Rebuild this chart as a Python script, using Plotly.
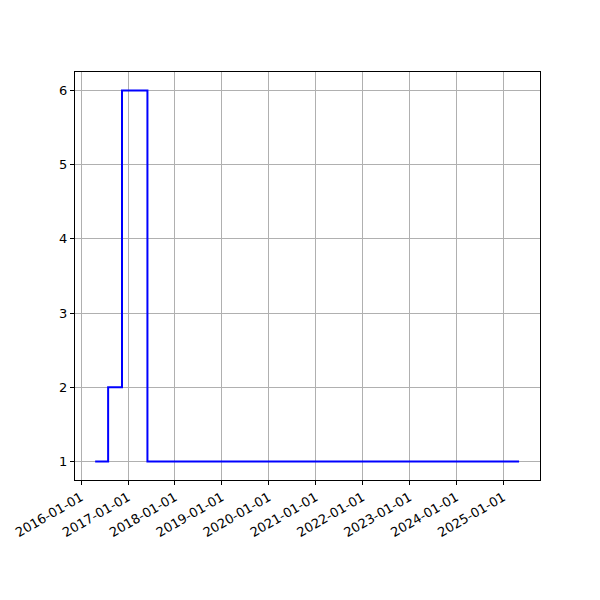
import plotly.graph_objects as go

dates = ["2016-04-20", "2016-07-30", "2016-11-15", "2017-06-01", "2025-05-04"]
values = [1, 2, 6, 1, 1]
tick_dates = [f"{y}-01-01" for y in range(2016, 2026)]
y_ticks = [1, 2, 3, 4, 5, 6]

fig = go.Figure()
fig.add_trace(go.Scatter(x=dates, y=values, mode="lines", line_shape="hv",
                         line=dict(color="blue", width=2)))

axis_common = dict(showline=True, linecolor="black", linewidth=1, mirror=True,
                   showgrid=True, gridcolor="#b0b0b0", gridwidth=1,
                   ticks="outside", ticklen=4, tickcolor="black", zeroline=False,
                   automargin=False,
                   tickfont=dict(family="DejaVu Sans", size=13, color="black"))

# page body has an 8px default margin, so offsets compensate for it
fig.update_layout(
    width=600, height=600,
    margin=dict(l=67, r=68, t=64, b=128),
    plot_bgcolor="white", paper_bgcolor="white",
    showlegend=False,
    xaxis=dict(type="date", range=["2015-11-15", "2025-10-14"],
               tickvals=tick_dates, ticktext=tick_dates, tickangle=-30,
               **axis_common),
    yaxis=dict(range=[0.75, 6.25], tickvals=y_ticks,
               ticktext=[str(v) for v in y_ticks], **axis_common),
)

fig.write_html("out.html", config={"displayModeBar": False})
